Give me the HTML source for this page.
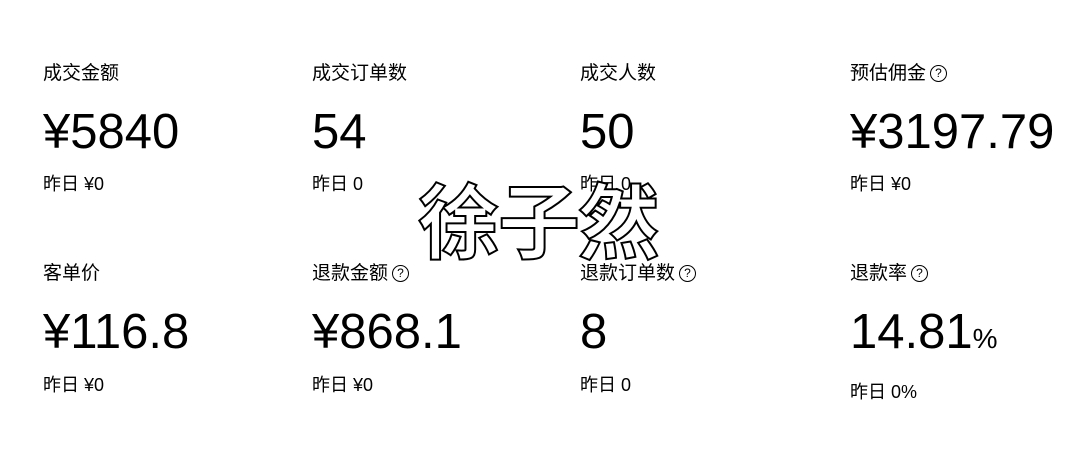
<!DOCTYPE html><html><head><meta charset="utf-8"><style>
body{margin:0;width:1081px;height:453px;background:#fff;position:relative;overflow:hidden;font-family:"Liberation Sans","Noto Sans CJK SC",sans-serif;color:#000}
.a{position:absolute;white-space:nowrap;line-height:1}
.l{font-size:19px}
.v{font-size:49px}
.y{font-size:18px}
.q{display:inline-block;width:15px;height:15px;border:1.5px solid #000;border-radius:50%;font-size:12px;text-align:center;line-height:15px;vertical-align:2px;margin-left:4px;box-sizing:content-box}
.wm{position:absolute;left:418px;top:176px;font-size:82px;font-weight:bold;line-height:1;font-family:"Noto Sans CJK SC",sans-serif;color:#fff;-webkit-text-stroke:2px #000;letter-spacing:-2px}
</style></head><body>
<div class="a l" style="left:43px;top:64px">成交金额</div>
<div class="a l" style="left:312px;top:64px">成交订单数</div>
<div class="a l" style="left:580px;top:64px">成交人数</div>
<div class="a l" style="left:850px;top:64px">预估佣金<span class="q">?</span></div>
<div class="a v" style="left:43px;top:108px">¥5840</div>
<div class="a v" style="left:312px;top:108px">54</div>
<div class="a v" style="left:580px;top:108px">50</div>
<div class="a v" style="left:850px;top:108px">¥3197.79</div>
<div class="a y" style="left:43px;top:175px">昨日 ¥0</div>
<div class="a y" style="left:312px;top:175px">昨日 0</div>
<div class="a y" style="left:580px;top:175px">昨日 0</div>
<div class="a y" style="left:850px;top:175px">昨日 ¥0</div>
<div class="a l" style="left:43px;top:264px">客单价</div>
<div class="a l" style="left:312px;top:264px">退款金额<span class="q">?</span></div>
<div class="a l" style="left:580px;top:264px">退款订单数<span class="q">?</span></div>
<div class="a l" style="left:850px;top:264px">退款率<span class="q">?</span></div>
<div class="a v" style="left:43px;top:308px">¥116.8</div>
<div class="a v" style="left:312px;top:308px">¥868.1</div>
<div class="a v" style="left:580px;top:308px">8</div>
<div class="a v" style="left:850px;top:308px">14.81<span style="font-size:28px">%</span></div>
<div class="a y" style="left:43px;top:376px">昨日 ¥0</div>
<div class="a y" style="left:312px;top:376px">昨日 ¥0</div>
<div class="a y" style="left:580px;top:376px">昨日 0</div>
<div class="a y" style="left:850px;top:383px">昨日 0%</div>
<div class="wm">徐子然</div>
</body></html>
